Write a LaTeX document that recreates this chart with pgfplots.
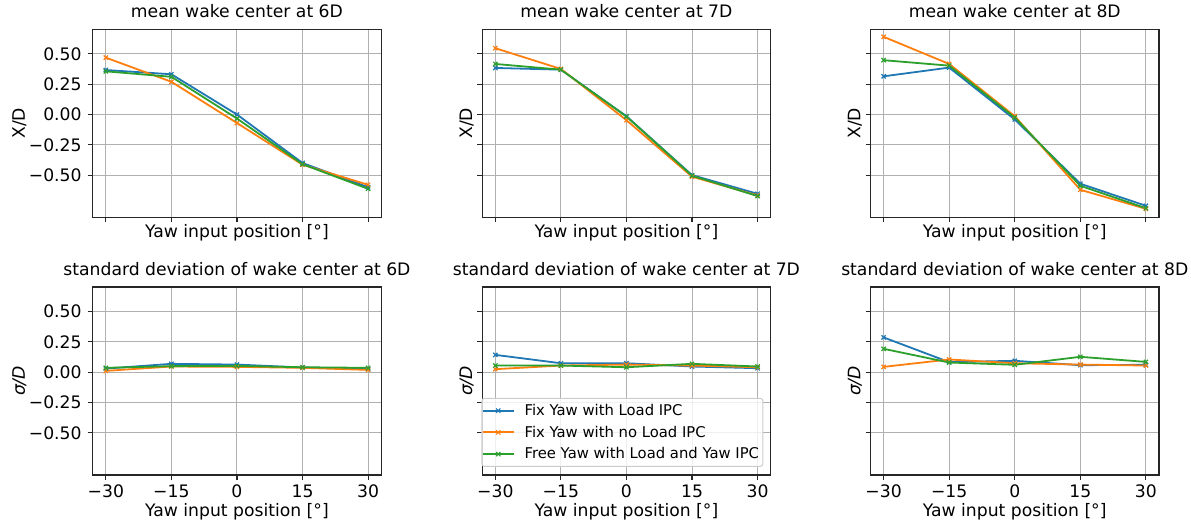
\documentclass[border=0pt]{standalone}
\usepackage{pgfplots}
\pgfplotsset{compat=1.18}
\usepackage{fontspec}
\setmainfont{DejaVu Sans}
\newcommand\fs{\fontsize{17.2pt}{20pt}\selectfont}
\newcommand\lfs{\fontsize{14.8pt}{17pt}\selectfont}
\definecolor{cb}{HTML}{1F77B4}
\definecolor{co}{HTML}{FF7F0E}
\definecolor{cg}{HTML}{2CA02C}
\definecolor{gridgray}{HTML}{B0B0B0}
\definecolor{legedge}{HTML}{CCCCCC}
\pgfplotsset{
  myax/.style={
    scale only axis, width=288.5pt, height=188pt,
    xmin=-33, xmax=33, ymin=-0.848, ymax=0.703,
    xtick={-30,-15,0,15,30}, ytick={-0.5,-0.25,0,0.25,0.5},
    grid=major, major grid style={draw=gridgray, line width=1pt},
    axis line style={line width=1.1pt, draw=black!85},
    tick align=outside, major tick length=4.9pt,
    every tick/.style={line width=1.1pt, black!85},
    tick pos=left,
    xticklabel style={inner sep=0pt, anchor=north, font=\fs},
    yticklabel style={inner sep=0pt, anchor=east, font=\fs},
    xticklabel shift=5pt, yticklabel shift=6pt,
    xlabel={Yaw input position [°]},
    label style={font=\fs},
    title style={font=\fs, inner sep=0pt, anchor=base, at={(axis description cs:0.5,1)}, yshift=5.5pt},
  },
  toprow/.style={xticklabels={\mbox{},\mbox{},\mbox{},\mbox{},\mbox{}}, xlabel style={inner sep=0pt, anchor=north, at={(axis description cs:0.5,-0.0356)}}},
  botrow/.style={xticklabels={−30,−15,0,15,30}, xlabel style={inner sep=0pt, anchor=north, at={(axis description cs:0.5,-0.149)}}},
  leftcol/.style={yticklabels={−0.50,−0.25,0.00,0.25,0.50}, ylabel style={inner sep=0pt, anchor=center, at={(axis description cs:-0.2537,0.5)}}},
  othercol/.style={yticklabels={\mbox{},\mbox{},\mbox{},\mbox{},\mbox{}}, ylabel style={inner sep=0pt, anchor=center, at={(axis description cs:-0.054,0.5)}}},
  sb/.style={cb, line width=1.8pt, mark=x, mark size=3pt, mark options={solid, line width=1.2pt}},
  so/.style={co, line width=1.8pt, mark=x, mark size=3pt, mark options={solid, line width=1.2pt}},
  sg/.style={cg, line width=1.8pt, mark=x, mark size=3pt, mark options={solid, line width=1.2pt}},
}
\begin{document}
\begin{tikzpicture}
\path (0,0) rectangle (1191pt,522pt);
% ---------- top row ----------
\begin{axis}[myax, toprow, leftcol, at={(92.7pt,304.7pt)}, anchor=south west,
  title={mean wake center at 6D}, ylabel={X/D}]
\addplot[sb] coordinates {(-30,0.367)(-15,0.332)(0,0.000)(15,-0.400)(30,-0.600)};
\addplot[so] coordinates {(-30,0.469)(-15,0.270)(0,-0.070)(15,-0.414)(30,-0.580)};
\addplot[sg] coordinates {(-30,0.356)(-15,0.311)(0,-0.033)(15,-0.410)(30,-0.613)};
\end{axis}
\begin{axis}[myax, toprow, othercol, at={(482.2pt,304.7pt)}, anchor=south west,
  title={mean wake center at 7D}, ylabel={X/D}]
\addplot[sb] coordinates {(-30,0.384)(-15,0.370)(0,-0.014)(15,-0.500)(30,-0.654)};
\addplot[so] coordinates {(-30,0.547)(-15,0.376)(0,-0.047)(15,-0.513)(30,-0.668)};
\addplot[sg] coordinates {(-30,0.417)(-15,0.370)(0,-0.017)(15,-0.505)(30,-0.673)};
\end{axis}
\begin{axis}[myax, toprow, othercol, at={(870.5pt,304.7pt)}, anchor=south west,
  title={mean wake center at 8D}, ylabel={X/D}]
\addplot[sb] coordinates {(-30,0.315)(-15,0.387)(0,-0.041)(15,-0.571)(30,-0.753)};
\addplot[so] coordinates {(-30,0.641)(-15,0.417)(0,-0.014)(15,-0.621)(30,-0.778)};
\addplot[sg] coordinates {(-30,0.448)(-15,0.403)(0,-0.025)(15,-0.588)(30,-0.773)};
\end{axis}
% ---------- bottom row ----------
\begin{axis}[myax, botrow, leftcol, at={(92.7pt,47pt)}, anchor=south west,
  title={standard deviation of wake center at 6D}, ylabel={\itshape σ/D}]
\addplot[sb] coordinates {(-30,0.030)(-15,0.069)(0,0.063)(15,0.039)(30,0.025)};
\addplot[so] coordinates {(-30,0.011)(-15,0.047)(0,0.044)(15,0.036)(30,0.019)};
\addplot[sg] coordinates {(-30,0.036)(-15,0.050)(0,0.052)(15,0.041)(30,0.036)};
\end{axis}
\begin{axis}[myax, botrow, othercol, at={(482.2pt,47pt)}, anchor=south west,
  title={standard deviation of wake center at 7D}, ylabel={\itshape σ/D},
  legend cell align=left,
  legend style={at={(axis description cs:-0.003,0.0426)}, anchor=south west,
    draw=legedge, line width=1pt, rounded corners=3pt, fill=white, fill opacity=0.8, text opacity=1,
    font=\lfs, inner xsep=0pt, inner ysep=4pt, row sep=5pt, column sep=6pt,
    nodes={inner xsep=4pt, inner ysep=2pt}},
  legend image code/.code={\draw[mark repeat=2,mark phase=2] plot coordinates {(0pt,0pt)(15.5pt,0pt)(31pt,0pt)};}]
\addplot[sb] coordinates {(-30,0.143)(-15,0.074)(0,0.074)(15,0.047)(30,0.033)};
\addlegendentry{Fix Yaw with Load IPC}
\addplot[so] coordinates {(-30,0.025)(-15,0.055)(0,0.063)(15,0.055)(30,0.041)};
\addlegendentry{Fix Yaw with no Load IPC}
\addplot[sg] coordinates {(-30,0.055)(-15,0.055)(0,0.041)(15,0.069)(30,0.047)};
\addlegendentry{Free Yaw with Load and Yaw IPC\hspace{9pt}}
\end{axis}
\begin{axis}[myax, botrow, othercol, at={(870.5pt,47pt)}, anchor=south west,
  title={standard deviation of wake center at 8D}, ylabel={\itshape σ/D}]
\addplot[sb] coordinates {(-30,0.287)(-15,0.083)(0,0.094)(15,0.058)(30,0.061)};
\addplot[so] coordinates {(-30,0.044)(-15,0.105)(0,0.074)(15,0.063)(30,0.055)};
\addplot[sg] coordinates {(-30,0.193)(-15,0.080)(0,0.061)(15,0.127)(30,0.085)};
\end{axis}
\end{tikzpicture}
\end{document}
